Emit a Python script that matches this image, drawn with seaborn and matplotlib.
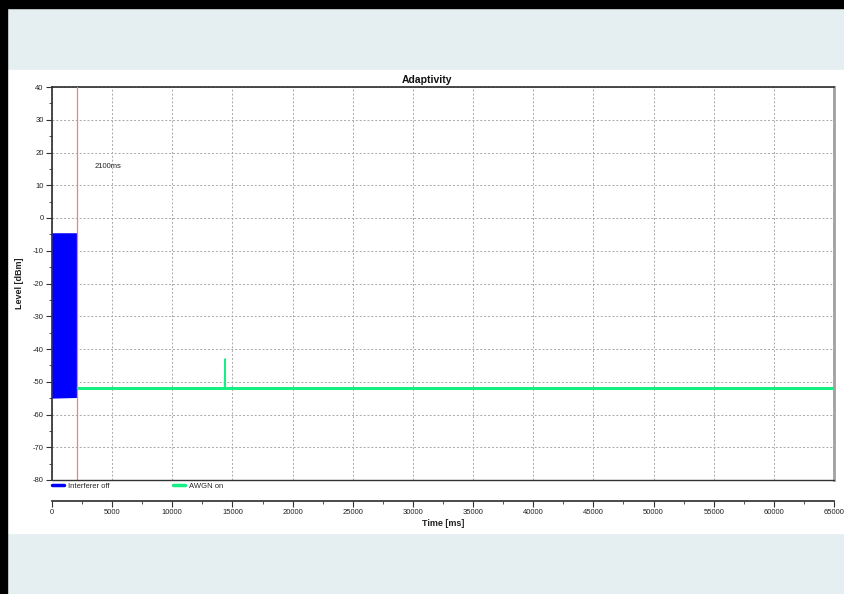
import matplotlib
matplotlib.use("Agg")
import matplotlib.pyplot as plt
from matplotlib.patches import Rectangle
from matplotlib.lines import Line2D
from matplotlib.ticker import MultipleLocator
import pandas as pd
import seaborn as sns

# interferer off: dense burst, drawn as its envelope
blue_time = [0, 2100]
blue_upper = [-4.5, -4.5]
blue_lower = [-55.0, -54.8]

# AWGN on: noisy flat level (envelope) with one short spike
green_band_time = [2100, 65000]
green_band_upper = [-51.5, -51.5]
green_band_lower = [-52.5, -52.5]
green_time = [2100, 14330, 14360, 14390, 14420, 65000]
green_level = [-52.0, -52.0, -44.0, -43.0, -52.0, -52.0]

marker_ms = 2100
marker_text = "2100ms"
x_ticks = list(range(0, 65001, 5000))
y_ticks = list(range(-80, 41, 10))

sns.set_theme(style="white")
plt.rcParams['font.family'] = ['Liberation Sans Narrow', 'Liberation Sans', 'DejaVu Sans']
plt.rcParams['axes.unicode_minus'] = False

fig = plt.figure(figsize=(8.45, 5.94), dpi=100)
fig.patch.set_facecolor('#e5eef1')
# white chart panel and black frame edges
fig.patches.append(Rectangle((0, 1 - 533 / 594), 1, (533 - 70) / 594,
                             transform=fig.transFigure, color='white', zorder=-2))
fig.patches.append(Rectangle((0, 0), 7 / 845, 1, transform=fig.transFigure,
                             color='black', zorder=-1))
fig.patches.append(Rectangle((0, 1 - 8 / 594), 1, 8 / 594, transform=fig.transFigure,
                             color='black', zorder=-1))

ax = fig.add_axes([52 / 845, 1 - 480 / 594, 782 / 845, 393 / 594])
ax.set_zorder(2)
ax.set_facecolor('white')

green = '#14f081'
ax.fill_between(blue_time, blue_lower, blue_upper, color='#0000ff', lw=0, zorder=3)
ax.fill_between(green_band_time, green_band_lower, green_band_upper, color=green,
                lw=0, zorder=4)
df = pd.DataFrame({'time': green_time, 'level': green_level})
sns.lineplot(data=df, x='time', y='level', ax=ax, color=green, lw=0.9,
             zorder=4, legend=False)
ax.axvline(marker_ms, color='#f08080', lw=0.9, zorder=5)
ax.text(3500, 15.6, marker_text, fontsize=5.5, va='center', ha='left', color='#222222')

ax.set_xlim(0, 65000)
ax.set_ylim(-80, 40)
ax.set_xticks(x_ticks)
ax.set_yticks(y_ticks)
ax.xaxis.set_minor_locator(MultipleLocator(2500))
ax.yaxis.set_minor_locator(MultipleLocator(5))
ax.tick_params(axis='both', which='major', direction='out', length=4, width=0.8,
               color='#333333', labelsize=5.5, pad=2, labelcolor='#222222')
ax.tick_params(axis='both', which='minor', direction='out', length=2.5, width=0.6,
               color='#333333')
ax.tick_params(bottom=True, left=True, which='both')
ax.grid(True, which='major', color='#a8a8a8', lw=0.7, ls=(0, (2, 2)))

ax.spines['bottom'].set_position(('outward', 15))
ax.spines['bottom'].set_color('#333333')
ax.spines['left'].set_color('#333333')
ax.spines['top'].set_color('#333333')
ax.spines['right'].set_color('#a0a0a0')
ax.spines['right'].set_linewidth(2)
ax.axhline(-80, color='#333333', lw=1.0, clip_on=False, zorder=6)

ax.set_xlabel('Time [ms]', fontsize=6.5, fontweight='bold', labelpad=2, color='#222222')
ax.set_ylabel('Level [dBm]', fontsize=6.5, fontweight='bold', labelpad=6, color='#222222')
fig.text(427 / 845, 1 - 80 / 594, 'Adaptivity', ha='center', va='center',
         fontsize=7.5, fontweight='bold', color='#111111')

handles = [Line2D([], [], color='#0000ff', lw=2.5),
           Line2D([], [], color=green, lw=2.5)]
ax.legend(handles, ['Interferer off', 'AWGN on'], loc='center left',
          bbox_to_anchor=(0.0, -0.016), ncol=2, frameon=False, fontsize=5.5,
          handlelength=1.6, handletextpad=0.5, columnspacing=8.3, borderaxespad=0,
          borderpad=0)

fig.savefig('out.png', dpi=100, facecolor=fig.get_facecolor())
